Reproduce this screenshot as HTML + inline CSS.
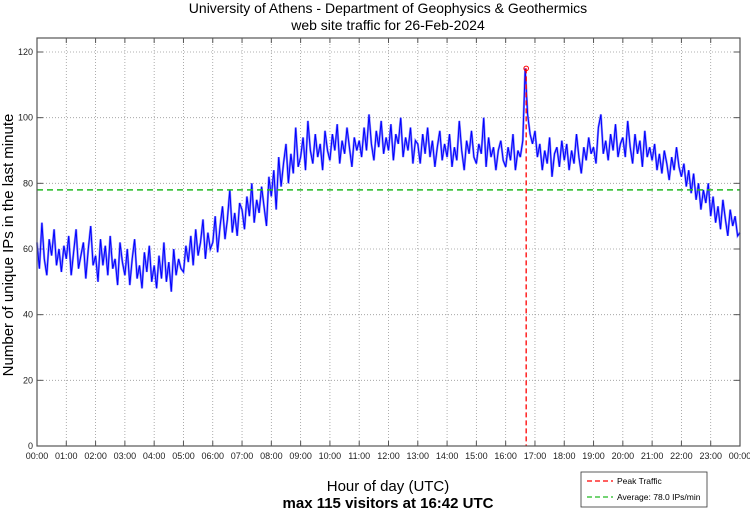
<!DOCTYPE html>
<html><head><meta charset="utf-8"><style>
body{margin:0;background:#fff;width:750px;height:511px;overflow:hidden;font-family:"Liberation Sans",sans-serif}
svg text{font-family:"Liberation Sans",sans-serif}
</style></head><body>
<svg id="chart" width="750" height="511" xmlns="http://www.w3.org/2000/svg">
<text x="388" y="13" font-size="14" text-anchor="middle">University of Athens - Department of Geophysics &amp; Geothermics</text>
<text x="388" y="30" font-size="14" text-anchor="middle">web site traffic for 26-Feb-2024</text>
<text transform="translate(13,245) rotate(-90)" font-size="15" text-anchor="middle">Number of unique IPs in the last minute</text>
<text x="388" y="491" font-size="15" text-anchor="middle">Hour of day (UTC)</text>
<text x="388" y="508" font-size="15" font-weight="bold" text-anchor="middle">max 115 visitors at 16:42 UTC</text>
<g id="grid"></g>
<g id="series"></g>
<rect x="37" y="38" width="703" height="408" fill="none" stroke="#555" stroke-width="1.2"/>
<g>
<rect x="581" y="472" width="126" height="35" fill="#fff" stroke="#333" stroke-width="0.8"/>
<line x1="587" y1="481" x2="613" y2="481" stroke="#ff0000" stroke-width="1.3" stroke-dasharray="5,3"/>
<text x="617" y="484" font-size="8.5">Peak Traffic</text>
<line x1="587" y1="497" x2="613" y2="497" stroke="#22bb22" stroke-width="1.3" stroke-dasharray="5,3"/>
<text x="617" y="500" font-size="8.5">Average: 78.0 IPs/min</text>
</g>
</svg>
<script>
const hourLabels=["00:00","01:00","02:00","03:00","04:00","05:00","06:00","07:00","08:00","09:00","10:00","11:00","12:00","13:00","14:00","15:00","16:00","17:00","18:00","19:00","20:00","21:00","22:00","23:00","00:00"];
const yTicks=[0,20,40,60,80,100,120];
const averageValue=78.0;
const peakHour=16.7;
const peakValue=115;
const values=[
62,54,68,57,52,63,58,66,55,60,53,61,
57,64,52,59,66,54,58,62,51,60,67,55,
58,50,63,55,61,52,64,54,57,49,62,56,
52,60,49,57,63,51,55,48,59,53,61,50,
55,48,58,51,62,50,56,47,60,52,57,54,
53,61,56,64,55,66,58,62,69,57,65,60,
62,70,59,67,73,63,69,78,65,71,64,74,
72,66,76,70,80,68,75,71,79,73,67,82,
76,84,72,88,79,86,92,80,89,83,97,85,
88,94,84,99,90,86,95,88,92,84,96,90,
87,95,90,98,86,93,89,97,91,85,94,90,
93,88,97,90,101,92,87,96,91,99,89,94,
90,98,87,95,92,100,88,94,90,97,86,93,
92,86,95,89,97,88,93,85,91,96,87,92,
88,95,85,91,87,99,90,84,93,89,96,88,
86,92,89,100,85,94,88,91,84,90,93,87,
85,91,87,95,84,90,88,93,115,101,95,92,
96,88,92,84,90,86,94,82,89,91,85,93,
87,92,84,90,86,95,88,83,91,87,94,89,
91,86,97,101,89,93,87,95,90,98,88,92,
94,88,99,91,86,95,89,93,85,96,88,91,
87,92,84,89,83,90,86,81,88,84,91,85,
82,86,79,84,77,83,75,80,72,78,74,80,
70,76,68,73,66,75,69,64,72,67,70,64,65];
const X0=37,X1=740,Y0=446,YMAX=120,YTOP=52;
function xs(h){return X0+h*(X1-X0)/24;}
function ys(v){return Y0-v*(Y0-YTOP)/YMAX;}
const NS="http://www.w3.org/2000/svg";
const grid=document.getElementById('grid'),series=document.getElementById('series');
function mk(tag,attrs,parent){const e=document.createElementNS(NS,tag);for(const k in attrs)e.setAttribute(k,attrs[k]);parent.appendChild(e);return e;}
hourLabels.forEach((lab,i)=>{
  const x=xs(i);
  if(i>0&&i<24){const g=mk('line',{x1:x,y1:38,x2:x,y2:446,stroke:'#999','stroke-width':0.8,'stroke-dasharray':'1,2'},grid);
  
  }
  const t1=mk('line',{x1:x,y1:446,x2:x,y2:441,stroke:'#555'},grid);
  
  
  const t2=mk('line',{x1:x,y1:38,x2:x,y2:43,stroke:'#555'},grid);
  
  
  const t=mk('text',{x:x,y:459,'font-size':9,'text-anchor':'middle',fill:'#222'},grid);
  t.textContent=lab;
  
  
});
yTicks.forEach(v=>{
  const y=ys(v);
  if(v>0){const g=mk('line',{x1:37,y1:y,x2:740,y2:y,stroke:'#999','stroke-width':0.8,'stroke-dasharray':'1,2'},grid);
  
  }
  const tk=mk('line',{x1:37,y1:y,x2:43,y2:y,stroke:'#555'},grid);
  
  
  const tk2=mk('line',{x1:734,y1:y,x2:740,y2:y,stroke:'#555'},grid);
  
  
  const t=mk('text',{x:33,y:y+3,'font-size':9,'text-anchor':'end',fill:'#222'},grid);
  t.textContent=v;
  
  
});
const n=values.length-1;
const pts=values.map((v,i)=>xs(i*24/n).toFixed(1)+','+ys(v).toFixed(1)).join(' ');
const shade=mk('polyline',{points:pts,fill:'none',stroke:'#8888ff','stroke-width':2.2},series);


const line=mk('polyline',{points:pts,fill:'none',stroke:'#0000ff','stroke-width':1},series);


const avg=mk('line',{x1:37,y1:ys(averageValue),x2:740,y2:ys(averageValue),stroke:'#22bb22','stroke-width':1.5,'stroke-dasharray':'6,4'},series);


const pk=mk('line',{x1:xs(peakHour),y1:ys(peakValue),x2:xs(peakHour),y2:446,stroke:'#ff0000','stroke-width':1.3,'stroke-dasharray':'5,3'},series);


const pm=mk('circle',{cx:xs(peakHour),cy:ys(peakValue),r:2.3,fill:'none',stroke:'#ff0000','stroke-width':1},series);


</script>
</body></html>
